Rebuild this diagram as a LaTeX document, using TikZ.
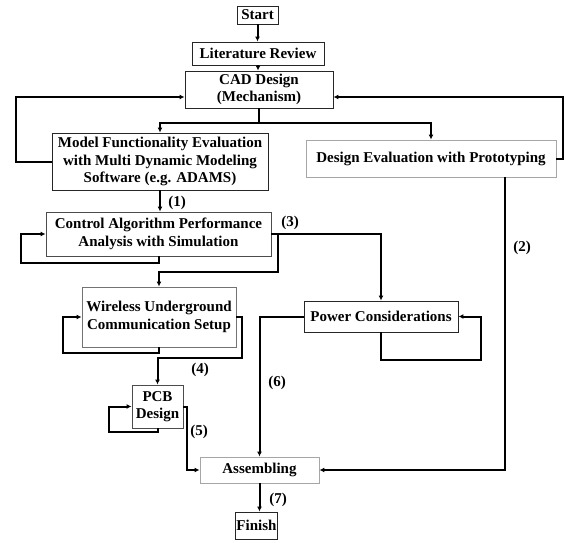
\documentclass[tikz,border=0pt]{standalone}
\usepackage{fontspec}
\setmainfont{Liberation Serif}
\usepackage{tikz}
\usetikzlibrary{calc,arrows.meta}

\tikzset{
  stage/.style={draw=black!85, line width=0.9pt, rectangle, align=center, inner sep=1pt,
    font=\bfseries\fontsize{15}{17.5}\selectfont},
  softstage/.style={stage, draw=black!35},
  flow/.style={line width=2pt, -{Latex[length=5pt,width=5pt]}},
  link/.style={line width=2pt},
  steplabel/.style={font=\bfseries\fontsize{15}{17}\selectfont, inner sep=0pt}
}

\begin{document}
\begin{tikzpicture}[x=1pt, y=-1pt]
\useasboundingbox[fill=white] (0,0) rectangle (566,542);

% Main blocks
\node[stage, minimum width=41pt, minimum height=18pt] (start) at (257.5,15) {Start};
\node[stage, minimum width=132pt, minimum height=23pt] (lit) at (258,53.5) {Literature Review};
\node[stage, minimum width=148pt, minimum height=37pt] (cad) at (259,89.5) {CAD Design\\(Mechanism)};
\node[stage, minimum width=216pt, minimum height=57pt] (model) at (160,161.5) {Model Functionality Evaluation\\with Multi Dynamic Modeling\\Software (e.g. ADAMS)};
\node[softstage, minimum width=250pt, minimum height=37pt] (deval) at (431,158.5) {Design Evaluation with Prototyping};
\node[stage, draw=black!70, minimum width=225pt, minimum height=44pt] (ctrl) at (158.5,234) {Control Algorithm Performance\\Analysis with Simulation};
\node[stage, draw=black!55, minimum width=154pt, minimum height=60pt] (wireless) at (159,317) {Wireless Underground\\Communication Setup};
\node[stage, minimum width=154pt, minimum height=31pt] (power) at (381,316.5) {Power Considerations};
\node[stage, draw=black!70, minimum width=51pt, minimum height=43pt] (pcb) at (157.5,406.5) {PCB\\Design};
\node[softstage, minimum width=119pt, minimum height=26pt] (assem) at (259.5,470) {Assembling};
\node[stage, minimum width=41pt, minimum height=27pt] (finish) at (256.5,525.5) {Finish};

% Top of the flow
\draw[flow] (start.south) -- (start.south |- lit.north);
\draw[flow] (lit.south) -- (lit.south |- cad.north);

% Feedback loops into CAD design
\coordinate (lloop) at (16,97);
\coordinate (rloop) at (563,97);
\draw[flow] (model.west) -| (lloop) -- (lloop -| cad.west);
\draw[flow] (deval.east) -| (rloop) -- (rloop -| cad.east);

% Split below CAD design
\coordinate (cadsplit) at (259,123);
\draw[link] (cad.south) -- (cadsplit);
\draw[flow] (cadsplit) -| (model.north);
\draw[flow] (cadsplit) -| (deval.north);

% Simulation stage
\draw[flow] (model.south) -- (model.south |- ctrl.north);
\node[steplabel] (l1) at (177,203) {(1)};
\coordinate (ctrlloop) at (21,263);
\draw[flow] (ctrl.south) |- (ctrlloop) |- (ctrl.west);

% Branches after simulation
\draw[flow] (ctrl.east) -| (power.north);
\node[steplabel] (l3) at (290,223) {(3)};
\coordinate (wbend) at (278,272);
\draw[flow] (ctrl.east) -| (wbend) -| (wireless.north);

% Wireless setup
\coordinate (wloop) at (63,353);
\draw[flow] (wireless.south) |- (wloop) |- (wireless.west);
\coordinate (pbend) at (242,358);
\draw[flow] (wireless.east) -| (pbend) -| (pcb.north);
\node[steplabel] (l4) at (200,370) {(4)};

% Power considerations
\coordinate (ploop) at (481,360);
\draw[flow] (power.south) |- (ploop) |- (power.east);
\draw[flow] (power.west) -| (assem.north);
\node[steplabel] (l6) at (277,383) {(6)};

% Prototype path
\coordinate (dout) at ($(deval.south)+(74,0)$);
\draw[flow] (dout) |- (assem.east);
\node[steplabel] (l2) at (522,248) {(2)};

% PCB design
\coordinate (pcbloop) at (109,432);
\draw[flow] (pcb.south) |- (pcbloop) |- (pcb.west);
\coordinate (abend) at (187,470);
\draw[flow] (pcb.east) -| (abend) -- (assem.west);
\node[steplabel] (l5) at (199,432) {(5)};

% End
\draw[flow] (assem.south) -- (assem.south |- finish.north);
\node[steplabel] (l7) at (278,500) {(7)};

\end{tikzpicture}
\end{document}
